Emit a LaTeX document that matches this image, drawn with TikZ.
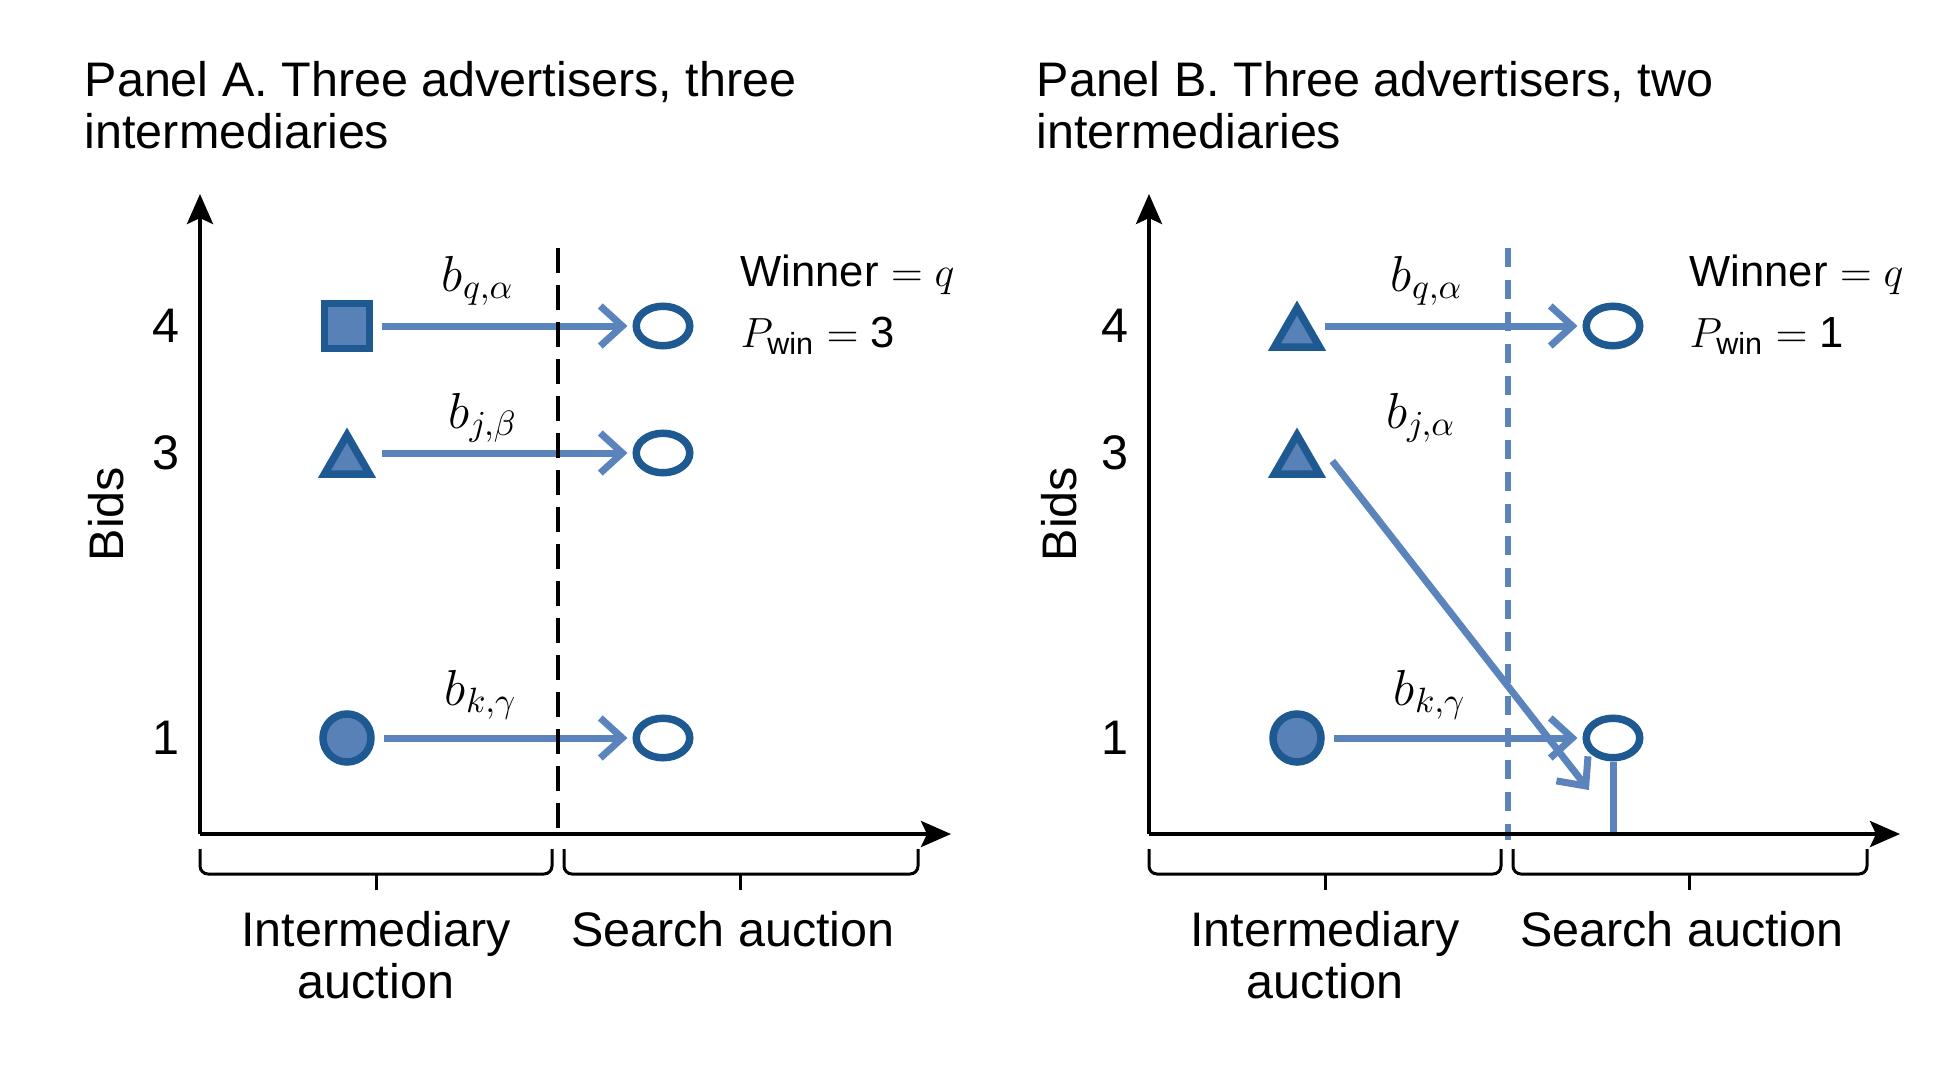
\documentclass[tikz,border=0pt]{standalone}
\usepackage{fontspec}
\setmainfont{Liberation Sans}
\usepackage{amsmath}
\usetikzlibrary{arrows.meta,shapes.geometric}

\definecolor{adedge}{RGB}{31,89,145}
\definecolor{adfill}{RGB}{88,129,184}
\definecolor{bidline}{RGB}{91,131,188}

\begin{document}
\begin{tikzpicture}[x=0.1mm,y=-0.1mm,
    font=\fontsize{13.8}{14.6}\selectfont,
    axis/.style={line width=0.4mm,-{Stealth[length=3mm,width=2.6mm,inset=0.6mm]}},
    bid/.style={draw=bidline,line width=0.7mm,-{Straight Barb[length=2.2mm,width=4mm]},shorten <=0.9mm,shorten >=0.5mm},
    sqad/.style={rectangle,draw=adedge,fill=adfill,line width=0.75mm,minimum size=4.5mm,inner sep=0pt},
    triad/.style={regular polygon,regular polygon sides=3,draw=adedge,fill=adfill,line width=0.75mm,minimum size=5.2mm,inner sep=0pt},
    circad/.style={circle,draw=adedge,fill=adfill,line width=0.75mm,minimum size=4.8mm,inner sep=0pt},
    slot/.style={ellipse,draw=adedge,line width=0.75mm,minimum width=5.35mm,minimum height=3.95mm,inner sep=0pt},
    result/.style={anchor=base west,inner sep=0pt,font=\fontsize{12.4}{14}\selectfont},
    bracket/.style={line width=0.3mm,rounded corners=0.8mm}]

    \useasboundingbox (0,0) rectangle (1958,1064);

    % Panel A
    \node[anchor=north west,align=left,inner sep=0pt] (titleA) at (84,61)
        {Panel A. Three advertisers, three\\intermediaries};
    \coordinate (oA) at (200,834);
    \coordinate (yA) at (200,194);
    \coordinate (xA) at (951,834);

    \node (rA4) at (166,326) {4};
    \node (rA3) at (166,453) {3};
    \node (rA1) at (166,738) {1};
    \node[rotate=90] (bidsA) at (106,514) {Bids};

    \node[sqad] (qA) at (347,326) {};
    \node[triad] (jA) at (347,461) {};
    \node[circad] (kA) at (347,738) {};
    \node[slot] (sA4) at (663,326) {};
    \node[slot] (sA3) at (663,453) {};
    \node[slot] (sA1) at (663,738) {};

    \draw[bid] (qA) -- (sA4);
    \draw[bid] (qA.east |- sA3) -- (sA3);
    \draw[bid] (kA) -- (sA1);

    \node (lqA) at (478,281) {$b_{q,\alpha}$};
    \node (ljA) at (483,418) {$b_{j,\beta}$};
    \node (lkA) at (481,695) {$b_{k,\gamma}$};

    \node[result] (winA) at (740,286) {Winner $= q$};
    \node[result] (pwA) at (740,347) {$P_{\text{win}} = \text{3}$};

    \draw[line width=0.4mm,dash pattern=on 2.5mm off 1.2mm] (558,248) -- (558,834);
    \draw[axis] (oA) -- (yA);
    \draw[axis] (oA) -- (xA);

    \draw[bracket] (200,849) -- (200,874) -- (552,874) -- (552,849);
    \draw[bracket] (376,874) -- (376,890);
    \draw[bracket] (564,849) -- (564,874) -- (918,874) -- (918,849);
    \draw[bracket] (740,874) -- (740,890);
    \node[align=center] (iaA) at (376,955) {Intermediary\\auction};
    \node (saA) at (733,929) {Search auction};

    % Panel B
    \node[anchor=north west,align=left,inner sep=0pt] (titleB) at (1036,61)
        {Panel B. Three advertisers, two\\intermediaries};
    \coordinate (oB) at (1149,834);
    \coordinate (yB) at (1149,194);
    \coordinate (xB) at (1900,834);
    \coordinate (tipB) at (1592,794);

    \node (rB4) at (1115,326) {4};
    \node (rB3) at (1115,453) {3};
    \node (rB1) at (1115,738) {1};
    \node[rotate=90] (bidsB) at (1059,514) {Bids};

    \node[triad] (qB) at (1297,334) {};
    \node[triad] (jB) at (1297,461) {};
    \node[circad] (kB) at (1297,738) {};
    \node[slot] (sB4) at (1613,326) {};
    \node[slot] (sB1) at (1613,738) {};

    \draw[bid] (qB.east |- sB4) -- (sB4);
    \draw[bid] (kB) -- (sB1);
    \draw[bid,shorten <=0pt] ([xshift=1.6mm]jB.east) -- (tipB);
    \draw[draw=bidline,line width=0.7mm] (sB1.south) -- (sB1.south |- oB);

    \node (lqB) at (1427,281) {$b_{q,\alpha}$};
    \node (ljB) at (1421,418) {$b_{j,\alpha}$};
    \node (lkB) at (1430,695) {$b_{k,\gamma}$};

    \node[result] (winB) at (1689,286) {Winner $= q$};
    \node[result] (pwB) at (1689,347) {$P_{\text{win}} = \text{1}$};

    \draw[bidline,line width=0.6mm,dash pattern=on 1.9mm off 1.3mm] (1508,248) -- (1508,840);
    \draw[axis] (oB) -- (yB);
    \draw[axis] (oB) -- (xB);

    \draw[bracket] (1149,849) -- (1149,874) -- (1501,874) -- (1501,849);
    \draw[bracket] (1325,874) -- (1325,890);
    \draw[bracket] (1513,849) -- (1513,874) -- (1867,874) -- (1867,849);
    \draw[bracket] (1689,874) -- (1689,890);
    \node[align=center] (iaB) at (1325,955) {Intermediary\\auction};
    \node (saB) at (1682,929) {Search auction};
\end{tikzpicture}
\end{document}
